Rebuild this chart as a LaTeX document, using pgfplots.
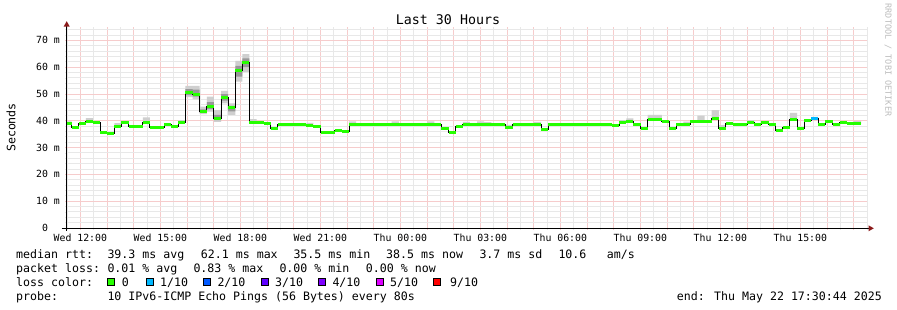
\documentclass[border=0pt]{standalone}
\usepackage{fontspec}
\setmainfont{DejaVu Sans Mono}
\setmonofont{DejaVu Sans Mono}
\usepackage{pgfplots}
\pgfplotsset{compat=1.18}
\usepackage{pgfplotstable}
\usepgfplotslibrary{fillbetween}
\definecolor{lossgreen}{HTML}{26FF00}
\definecolor{lossA}{HTML}{00B8FF}
\definecolor{lossB}{HTML}{0059FF}
\definecolor{lossC}{HTML}{5E00FF}
\definecolor{lossD}{HTML}{7E00FF}
\definecolor{lossE}{HTML}{DD00FF}
\definecolor{lossF}{HTML}{FF0000}
\definecolor{majgridcol}{HTML}{F6CCCC}
\definecolor{mingridcol}{HTML}{E8E8E8}
\definecolor{arrowc}{HTML}{8B1A1A}
\definecolor{smokeA}{HTML}{CFCFCF}
\definecolor{smokeB}{HTML}{989898}
\definecolor{wm}{HTML}{BDBDBD}
\newcommand\legfont{\fontsize{11.6bp}{14bp}\selectfont}
\newcommand\tickfont{\fontsize{9.85bp}{12bp}\selectfont}
\newcommand\titlefont{\fontsize{13.3bp}{16bp}\selectfont}
\pgfplotstableread{
med lo hi dlo dhi
38.9 38.9 39.8 38.9 38.9
37.4 37.4 37.4 37.4 37.4
38.9 38.9 38.9 38.9 38.9
39.9 39.9 41.0 39.9 39.9
39.2 39.2 39.2 39.2 39.2
35.8 35.8 35.8 35.8 35.8
35.4 35.4 35.4 35.4 35.4
37.9 37.9 39.1 37.9 37.9
39.2 39.2 39.2 39.2 39.2
37.8 37.8 37.8 37.8 37.8
37.8 37.8 37.8 37.8 37.8
39.4 39.4 41.3 39.4 39.4
37.4 37.4 37.4 37.4 37.4
37.6 37.6 37.6 37.6 37.6
38.7 38.7 38.7 38.7 38.7
37.7 37.7 37.7 37.7 37.7
39.4 39.4 40.3 39.4 39.4
50.6 48.8 53.0 49.6 51.8
50.0 48.0 53.0 49.0 51.6
43.4 42.5 45.3 43.0 44.3
45.4 43.4 49.0 44.4 47.0
41.0 39.6 44.0 40.3 42.2
48.8 46.5 51.2 47.5 50.0
44.8 42.2 46.5 43.5 45.6
58.8 54.6 62.4 56.5 60.5
61.9 58.3 64.9 60.0 63.3
39.5 39.5 40.6 39.5 39.5
39.2 39.2 39.2 39.2 39.2
39.0 39.0 39.0 39.0 39.0
37.1 37.1 37.1 37.1 37.1
38.6 38.6 38.6 38.6 38.6
38.6 38.6 38.6 38.6 38.6
38.6 38.6 38.6 38.6 38.6
38.6 38.6 38.6 38.6 38.6
38.3 38.3 39.2 38.3 38.3
38.0 38.0 38.0 38.0 38.0
35.6 35.6 35.6 35.6 35.6
35.6 35.6 35.6 35.6 35.6
36.5 36.5 36.5 36.5 36.5
35.9 35.9 35.9 35.9 35.9
38.6 38.6 39.8 38.6 38.6
38.6 38.6 38.6 38.6 38.6
38.6 38.6 38.6 38.6 38.6
38.6 38.6 38.6 38.6 38.6
38.6 38.6 38.6 38.6 38.6
38.6 38.6 38.6 38.6 38.6
38.6 38.6 39.8 38.6 38.6
38.6 38.6 38.6 38.6 38.6
38.6 38.6 38.6 38.6 38.6
38.6 38.6 38.6 38.6 38.6
38.6 38.6 38.6 38.6 38.6
38.6 38.6 39.8 38.6 38.6
38.6 38.6 38.6 38.6 38.6
37.3 37.3 37.3 37.3 37.3
35.8 35.8 35.8 35.8 35.8
38.0 38.0 38.0 38.0 38.0
38.7 38.7 39.6 38.7 38.7
38.7 38.7 38.7 38.7 38.7
38.7 38.7 39.8 38.7 38.7
38.7 38.7 39.5 38.7 38.7
38.7 38.7 38.7 38.7 38.7
38.7 38.7 38.7 38.7 38.7
37.4 37.4 38.5 37.4 37.4
38.7 38.7 38.7 38.7 38.7
38.7 38.7 38.7 38.7 38.7
38.7 38.7 38.7 38.7 38.7
38.7 38.7 39.6 38.7 38.7
36.6 36.6 36.6 36.6 36.6
38.7 38.7 38.7 38.7 38.7
38.7 38.7 38.7 38.7 38.7
38.7 38.7 38.7 38.7 38.7
38.7 38.7 38.7 38.7 38.7
38.7 38.7 38.7 38.7 38.7
38.7 38.7 38.7 38.7 38.7
38.7 38.7 38.7 38.7 38.7
38.7 38.7 38.7 38.7 38.7
38.7 38.7 38.7 38.7 38.7
38.3 38.3 38.3 38.3 38.3
39.2 39.2 40.3 39.2 39.2
39.8 39.8 40.9 39.8 39.8
38.7 38.7 38.7 38.7 38.7
37.1 37.1 37.1 37.1 37.1
40.5 40.5 42.2 40.5 40.5
40.5 40.5 42.2 40.5 40.5
39.9 39.9 39.9 39.9 39.9
37.3 37.3 37.3 37.3 37.3
38.7 38.7 38.7 38.7 38.7
38.7 38.7 39.7 38.7 38.7
39.8 39.8 39.8 39.8 39.8
39.8 39.8 41.9 39.8 39.8
39.8 39.8 39.8 39.8 39.8
40.9 40.9 44.0 40.9 40.9
37.3 37.3 38.4 37.3 37.3
39.0 39.0 39.0 39.0 39.0
38.7 38.7 38.7 38.7 38.7
38.7 38.7 38.7 38.7 38.7
39.2 39.2 40.3 39.2 39.2
38.7 38.7 38.7 38.7 38.7
39.4 39.4 39.4 39.4 39.4
38.7 38.7 38.7 38.7 38.7
36.2 36.2 36.2 36.2 36.2
37.4 37.4 37.4 37.4 37.4
40.4 40.4 43.0 40.4 40.4
37.2 37.2 37.2 37.2 37.2
40.0 40.0 40.0 40.0 40.0
40.9 40.9 41.5 40.9 40.9
38.7 38.7 38.7 38.7 38.7
39.6 39.6 40.3 39.6 39.6
38.7 38.7 38.7 38.7 38.7
39.4 39.4 39.4 39.4 39.4
38.9 38.9 38.9 38.9 38.9
38.9 38.9 39.9 38.9 38.9
38.9 38.9 38.9 38.9 38.9
}\rttdata
\begin{document}
\begin{tikzpicture}
\path (0bp,0bp) rectangle (897bp,-310bp);
\begin{axis}[
  at={(67bp,-228bp)}, anchor=south west,
  scale only axis, width=800bp, height=201bp,
  xmin=0, xmax=30, ymin=0, ymax=75,
  axis background/.style={fill=white},
  axis line style={draw=none},
  xtick pos=bottom, ytick pos=left,
  tick align=outside,
  major tick length=2bp, minor tick length=2bp,
  major tick style={draw=majgridcol, line width=0.8bp},
  minor tick style={draw=mingridcol, line width=0.8bp},
  xtick={0.5,1.5,...,29.5},
  xticklabels={Wed 12:00,,,Wed 15:00,,,Wed 18:00,,,Wed 21:00,,,Thu 00:00,,,Thu 03:00,,,Thu 06:00,,,Thu 09:00,,,Thu 12:00,,,Thu 15:00,,},
  minor xtick={0,1,...,30},
  ytick={0,10,...,70},
  yticklabels={0\hphantom{00},10 m,20 m,30 m,40 m,50 m,60 m,70 m},
  minor ytick={2,4,6,8,12,14,16,18,22,24,26,28,32,34,36,38,42,44,46,48,52,54,56,58,62,64,66,68,72,74},
  xmajorgrids=true, ymajorgrids=true, xminorgrids=true, yminorgrids=true,
  major grid style={draw=majgridcol, line width=1bp},
  minor grid style={draw=mingridcol, line width=1bp},
  ticklabel style={font=\tickfont, text=black},
  xticklabel style={anchor=base, inner sep=0pt, yshift=-11bp},
  yticklabel style={anchor=east, inner sep=0pt, xshift=-5bp},
]
\addplot[name path=hiA, const plot, draw=none, forget plot] table[x expr=\coordindex*0.266667-0.0907, y=hi]{\rttdata};
\addplot[name path=loA, const plot, draw=none, forget plot] table[x expr=\coordindex*0.266667-0.0907, y=lo]{\rttdata};
\addplot[smokeA, draw=none, forget plot] fill between[of=hiA and loA];
\addplot[name path=hiB, const plot, draw=none, forget plot] table[x expr=\coordindex*0.266667-0.0907, y=dhi]{\rttdata};
\addplot[name path=loB, const plot, draw=none, forget plot] table[x expr=\coordindex*0.266667-0.0907, y=dlo]{\rttdata};
\addplot[smokeB, draw=none, forget plot] fill between[of=hiB and loB];
\addplot[const plot, black, line width=1bp, forget plot] table[x expr=\coordindex*0.266667-0.0907, y=med]{\rttdata};
\addplot[jump mark left, lossgreen, line width=3bp, forget plot] table[x expr=\coordindex*0.266667-0.0907, y=med]{\rttdata};
\addplot[jump mark left, lossA, line width=3bp, forget plot] coordinates {(27.909,40.9) (28.176,40.9)};
\end{axis}
% axis lines and arrows
\draw[line width=1bp, black] (61.7bp,-228.3bp) -- (869bp,-228.3bp);
\fill[arrowc] (868.5bp,-225.3bp) -- (873.8bp,-228.3bp) -- (868.5bp,-231.3bp) -- cycle;
\draw[line width=1bp, black] (66.7bp,-230.5bp) -- (66.7bp,-26bp);
\fill[arrowc] (63.7bp,-26.5bp) -- (66.7bp,-21.2bp) -- (69.7bp,-26.5bp) -- cycle;
% title, y label, watermark
\node[anchor=base, inner sep=0pt, font=\titlefont] at (448bp,-24bp) {Last 30 Hours};
\node[rotate=90, inner sep=0pt, font=\legfont] at (11bp,-127.5bp) {Seconds};
\node[rotate=-90, inner sep=0pt, text=wm, font=\fontsize{8.5bp}{10bp}\selectfont] at (888bp,-60bp) {RRDTOOL / TOBI OETIKER};
% legend lines
\begin{scope}[every node/.style={anchor=base west, inner sep=0pt, font=\legfont}]
\node at (16bp,-258bp) {median rtt:};
\node at (107.3bp,-258bp) {39.3 ms avg};
\node at (200.7bp,-258bp) {62.1 ms max};
\node at (293.3bp,-258bp) {35.5 ms min};
\node at (386bp,-258bp) {38.5 ms now};
\node at (479.3bp,-258bp) {3.7 ms sd};
\node at (558.3bp,-258bp) {10.6};
\node at (606.7bp,-258bp) {am/s};
\node at (16bp,-272bp) {packet loss:};
\node at (107.3bp,-272bp) {0.01 \% avg};
\node at (193.3bp,-272bp) {0.83 \% max};
\node at (279.3bp,-272bp) {0.00 \% min};
\node at (365.7bp,-272bp) {0.00 \% now};
\node at (16bp,-286bp) {loss color:};
\node at (121.7bp,-286bp) {0};
\node at (160bp,-286bp) {1/10};
\node at (217.3bp,-286bp) {2/10};
\node at (275bp,-286bp) {3/10};
\node at (332.3bp,-286bp) {4/10};
\node at (390bp,-286bp) {5/10};
\node at (450bp,-286bp) {9/10};
\node at (16bp,-300bp) {probe:};
\node at (107.3bp,-300bp) {10 IPv6-ICMP Echo Pings (56 Bytes) every 80s};
\node[anchor=base east] at (882bp,-300bp) {end: Thu May 22 17:30:44 2025};
\end{scope}
\foreach \bx/\bc in {107.8/lossgreen,146.5/lossA,203.8/lossB,261.2/lossC,318.8/lossD,376.2/lossE,433.8/lossF}{
  \filldraw[fill=\bc, draw=black, line width=0.8bp] (\bx bp,-278.4bp) rectangle ++(7bp,-7bp);
}
\end{tikzpicture}
\end{document}
